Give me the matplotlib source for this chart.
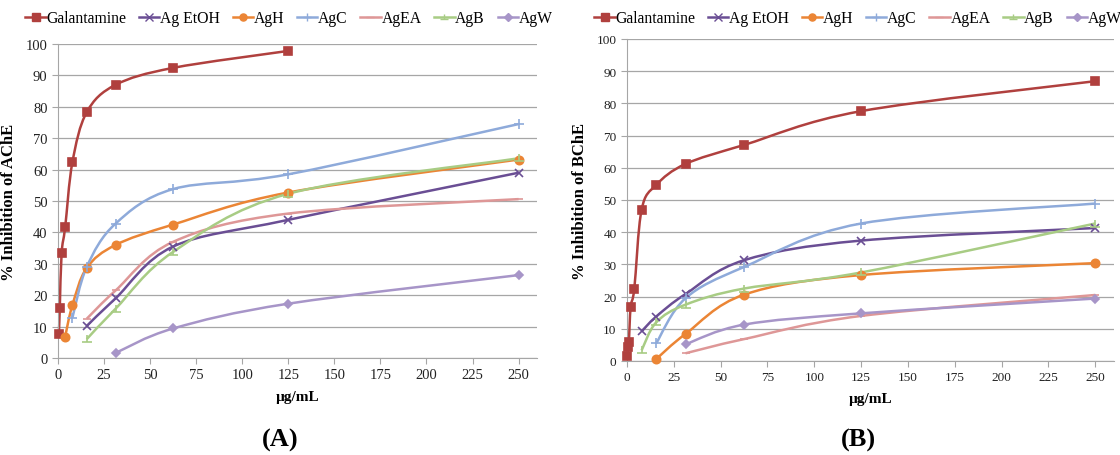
import numpy as np
import matplotlib
matplotlib.use("Agg")
import matplotlib.pyplot as plt
from matplotlib.path import Path
from matplotlib.patches import PathPatch
from matplotlib.lines import Line2D

plt.rcParams["font.family"] = ["Liberation Serif", "DejaVu Serif"]

names = ["Galantamine", "Ag EtOH", "AgH", "AgC", "AgEA", "AgB", "AgW"]
colors = ["#B0403E", "#6A4E94", "#EB8535", "#8EAADA", "#DE9797", "#A8CC84", "#A795C8"]

# panel A: AChE
a_gal_x = [0.49, 0.98, 1.95, 3.9, 7.8, 15.6, 31.25, 62.5, 125]
a_gal_y = [7.8, 16.0, 33.3, 41.7, 62.3, 78.3, 87.0, 92.4, 97.8]
a_etoh_x = [15.6, 31.25, 62.5, 125, 250]
a_etoh_y = [10.2, 19.0, 35.5, 44.0, 59.0]
a_h_x = [3.9, 7.8, 15.6, 31.25, 62.5, 125, 250]
a_h_y = [6.8, 16.8, 28.7, 36.0, 42.5, 52.7, 63.2]
a_c_x = [7.8, 15.6, 31.25, 62.5, 125, 250]
a_c_y = [12.8, 29.0, 42.8, 53.8, 58.5, 74.5]
a_ea_x = [15.6, 31.25, 62.5, 125, 250]
a_ea_y = [12.5, 21.5, 37.0, 46.0, 50.6]
a_b_x = [15.6, 31.25, 62.5, 125, 250]
a_b_y = [6.0, 15.7, 33.8, 52.3, 63.6]
a_w_x = [31.25, 62.5, 125, 250]
a_w_y = [1.6, 9.4, 17.3, 26.4]

# panel B: BChE
b_gal_x = [0.24, 0.49, 0.98, 1.95, 3.9, 7.8, 15.6, 31.25, 62.5, 125, 250]
b_gal_y = [1.6, 4.5, 5.8, 16.8, 22.5, 47.0, 54.7, 61.2, 67.1, 77.6, 86.9]
b_etoh_x = [7.8, 15.6, 31.25, 62.5, 125, 250]
b_etoh_y = [9.2, 13.8, 20.8, 31.3, 37.4, 41.3]
b_h_x = [15.6, 31.25, 62.5, 125, 250]
b_h_y = [0.6, 8.4, 20.6, 26.7, 30.4]
b_c_x = [15.6, 31.25, 62.5, 125, 250]
b_c_y = [5.5, 19.5, 29.2, 42.7, 48.9]
b_ea_x = [31.25, 62.5, 125, 250]
b_ea_y = [2.4, 6.8, 14.0, 20.5]
b_b_x = [7.8, 15.6, 31.25, 62.5, 125, 250]
b_b_y = [3.3, 12.0, 17.5, 22.5, 27.5, 42.7]
b_w_x = [31.25, 62.5, 125, 250]
b_w_y = [5.2, 11.3, 14.8, 19.4]

perp = Path([(-1, -0.6), (1, -0.6), (0, -0.6), (0, 0.8)],
            [Path.MOVETO, Path.LINETO, Path.MOVETO, Path.LINETO])
markers = ["s", "x", "o", "+", "_", perp, "D"]
msizes = [6, 6, 6, 7, 6, 7, 4.5]


def smooth_path(x, y):
    # excel-like smoothed line: cubic bezier, catmull-rom control points
    p = np.column_stack([x, y]).astype(float)
    verts = [p[0]]
    codes = [Path.MOVETO]
    n = len(p)
    for i in range(n - 1):
        p0 = p[i - 1] if i > 0 else p[i]
        p3 = p[i + 2] if i + 2 < n else p[i + 1]
        c1 = p[i] + (p[i + 1] - p0) / 6
        c2 = p[i + 1] - (p3 - p[i]) / 6
        verts += [c1, c2, p[i + 1]]
        codes += [Path.CURVE4] * 3
    return Path(verts, codes)


def panel(ax, series, ylabel, tag, tag_x, leg_x, tick_fs):
    ax.set_xlim(0, 260)
    ax.set_ylim(0, 100)
    ax.set_xticks(range(0, 251, 25))
    ax.set_yticks(range(0, 101, 10))
    ax.grid(axis="y", color="#A6A6A6", lw=0.9)
    ax.set_axisbelow(True)
    for s in ["top", "right"]:
        ax.spines[s].set_visible(False)
    for s in ["left", "bottom"]:
        ax.spines[s].set_color("#A6A6A6")
    ax.tick_params(axis="both", colors="#A6A6A6", labelcolor="#222222",
                   labelsize=tick_fs, length=4, direction="out")
    for (x, y), c, m, ms in zip(series, colors, markers, msizes):
        ax.add_patch(PathPatch(smooth_path(x, y), facecolor="none",
                               edgecolor=c, lw=1.8, clip_on=False))
        ax.plot(x, y, ls="none", marker=m, ms=ms, color=c, mew=1.2,
                clip_on=False, zorder=4)
    ax.set_ylabel(ylabel, fontsize=12, fontweight="bold", labelpad=6)
    ax.set_xlabel("µg/mL", fontsize=11, fontweight="bold", labelpad=6)
    fig.text(tag_x / 1120, 1 - 440 / 456, tag, ha="center", va="center",
             fontsize=19, fontweight="bold")
    handles = [Line2D([], [], color=c, marker=m, ms=ms * 0.85, lw=1.8, mew=1.0)
               for c, m, ms in zip(colors, markers, msizes)]
    fig.legend(handles, names, loc="center", bbox_to_anchor=(leg_x / 1120, 1 - 19 / 456),
               ncol=7, frameon=False, fontsize=11.3, handlelength=1.3,
               handletextpad=0.05, columnspacing=0.8, borderaxespad=0)


fig = plt.figure(figsize=(11.2, 4.56), dpi=100)
ax1 = fig.add_axes([58 / 1120, 1 - 359 / 456, 479 / 1120, 314 / 456])
ax2 = fig.add_axes([627 / 1120, 1 - 362 / 456, 487 / 1120, 322 / 456])

panel(ax1, [(a_gal_x, a_gal_y), (a_etoh_x, a_etoh_y), (a_h_x, a_h_y),
            (a_c_x, a_c_y), (a_ea_x, a_ea_y), (a_b_x, a_b_y), (a_w_x, a_w_y)],
      "% Inhibition of AChE", "(A)", 280, 289, 10.5)
panel(ax2, [(b_gal_x, b_gal_y), (b_etoh_x, b_etoh_y), (b_h_x, b_h_y),
            (b_c_x, b_c_y), (b_ea_x, b_ea_y), (b_b_x, b_b_y), (b_w_x, b_w_y)],
      "% Inhibition of BChE", "(B)", 858, 858, 9.5)

fig.savefig("out.png", dpi=100)
